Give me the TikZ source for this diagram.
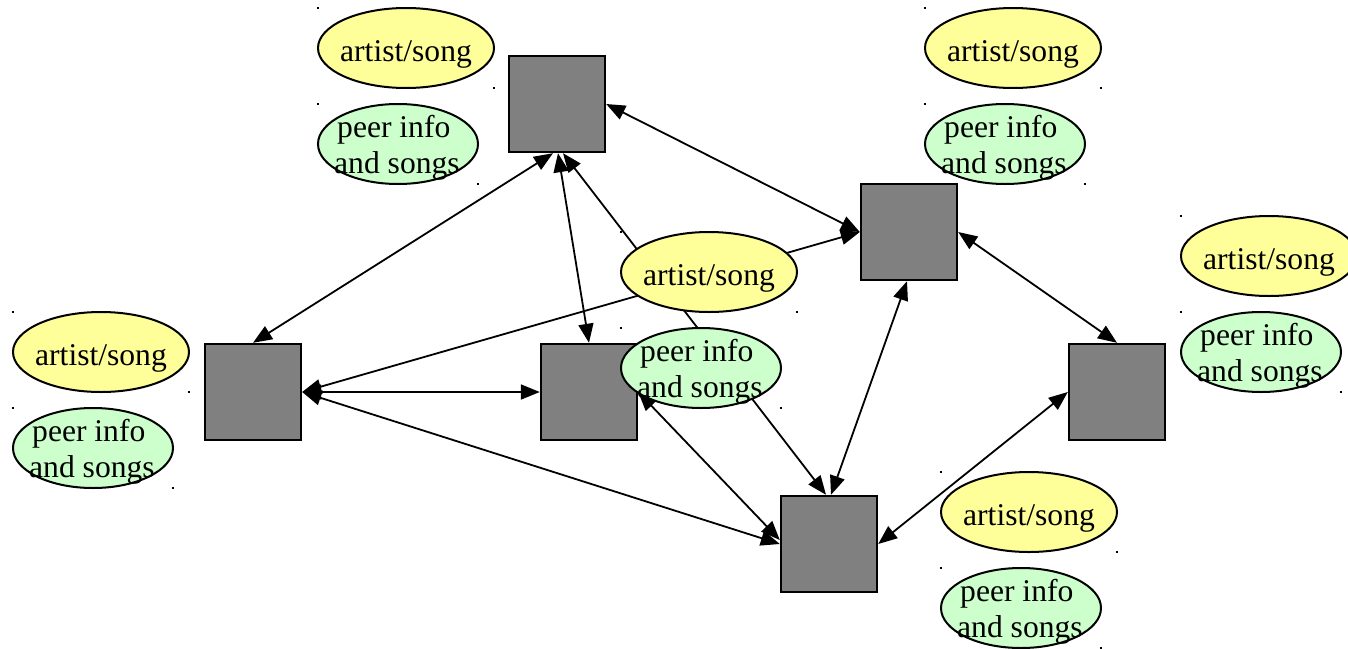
\documentclass[tikz,border=0pt]{standalone}
\usepackage{fontspec}
\setmainfont{Liberation Serif}
\usetikzlibrary{arrows.meta,shapes.geometric,calc}
\definecolor{hostgray}{HTML}{808080}
\definecolor{queryyellow}{HTML}{FFFF99}
\definecolor{infogreen}{HTML}{CCFFCC}
\tikzset{
  host/.style={draw=black, line width=2.4pt, fill=hostgray, minimum size=96pt, inner sep=0pt},
  link/.style={line width=1.8pt, {Triangle[length=19pt,width=15pt]}-{Triangle[length=19pt,width=15pt]}},
  query/.style={ellipse, draw=black, line width=2pt, fill=queryyellow,
    minimum width=176pt, minimum height=80pt, inner sep=0pt, outer sep=0pt},
  info/.style={ellipse, draw=black, line width=2pt, fill=infogreen,
    minimum width=160pt, minimum height=80pt, inner sep=0pt, outer sep=0pt},
  labeltext/.style={font=\fontsize{31.6}{36}\selectfont, inner sep=0pt},
}
\begin{document}
\begin{tikzpicture}[x=1pt,y=-1pt]
\useasboundingbox (0,0) rectangle (1348,648);
\clip (0,0) rectangle (1348,648);

% peers of the network
\node[host] (p1) at (557,104) {};
\node[host] (p2) at (909,232) {};
\node[host] (p3) at (253,392) {};
\node[host] (p4) at (589,392) {};
\node[host] (p5) at (829,544) {};
\node[host] (p6) at (1117,392) {};

% connections between peers
\draw[link] (p1.east) -- (p2.west);
\draw[link] (p3.north) -- ($(p1.south)+(-4,0)$);
\draw[link] ($(p1.south)+(1,0)$) -- (p4.north);
\draw[link] ($(p1.south)+(6,0)$) -- ($(p5.north)+(-3,0)$);
\draw[link] (p2.west) -- (p3.east);
\draw[link] (p3.east) -- (p4.west);
\draw[link] (p3.east) -- (p5.west);
\draw[link] (p4.east) -- ($(p5.west)+(0,-4)$);
\draw[link] ($(p2.south)+(-2,0)$) -- ($(p5.north)+(2,0)$);
\draw[link] (p2.east) -- (p6.north);
\draw[link] (p5.east) -- (p6.west);

% query and peer-info bubbles, with the corner marks of their frames
\foreach \g/\x/\y in {a/318/8, b/925/8, c/1181/216, d/13/312, e/941/472, f/621/232} {
  \node[query] (\g q) at (\x+88,\y+40) {};
  \node[info] (\g i) at (\x+80,\y+136) {};
  \node[labeltext, anchor=base] (\g qt) at (\x+88,\y+53) {artist/song};
  \node[labeltext, anchor=base west, align=left] (\g it) at (\x+16,\y+165) {\kern3pt peer info\\and songs};
  \foreach \s in {q,i} {
    \fill (\g\s.west |- \g\s.north) ++(-1.2,-1.2) rectangle ++(2.4,2.4);
    \fill (\g\s.east |- \g\s.south) ++(-1.2,-1.2) rectangle ++(2.4,2.4);
  }
}
\end{tikzpicture}
\end{document}
